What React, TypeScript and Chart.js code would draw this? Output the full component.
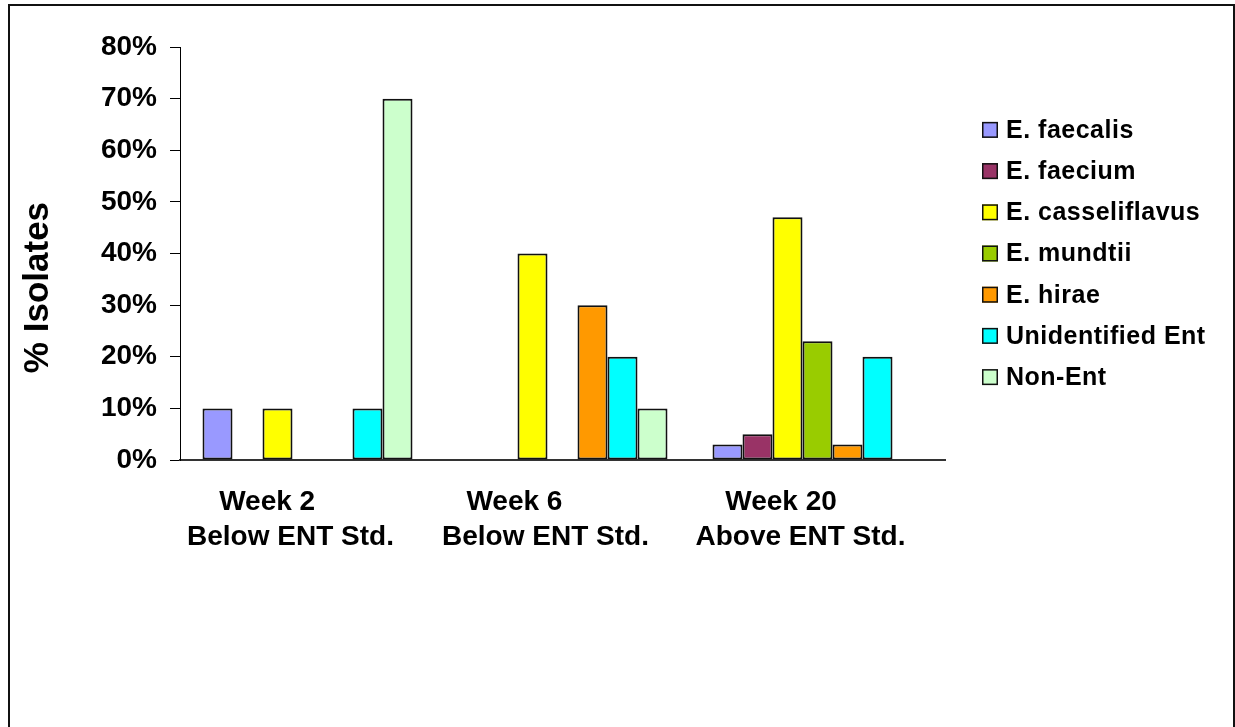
import React, { useEffect, useRef } from "react";
import { Chart, registerables } from "chart.js";

Chart.register(...registerables);

// Category labels (trailing spaces keep the first line left of centre, as in the original sheet)
const categories: string[][] = [
  ["Week 2      ", "Below ENT Std."],
  ["Week 6        ", "Below ENT Std."],
  ["Week 20     ", "Above ENT Std."],
];

const seriesNames = [
  "E. faecalis",
  "E. faecium",
  "E. casseliflavus",
  "E. mundtii",
  "E. hirae",
  "Unidentified Ent",
  "Non-Ent",
];

const seriesColors = [
  "#9999FF",
  "#993366",
  "#FFFF00",
  "#99CC00",
  "#FF9900",
  "#00FFFF",
  "#CCFFCC",
];

// Percent of isolates per series, one value per category
const faecalis = [10, 0, 3];
const faecium = [0, 0, 5];
const casseliflavus = [10, 40, 47];
const mundtii = [0, 0, 23];
const hirae = [0, 30, 3];
const unidentified = [10, 20, 20];
const nonEnt = [70, 10, 0];

const seriesValues = [faecalis, faecium, casseliflavus, mundtii, hirae, unidentified, nonEnt];

const yTicks = [0, 10, 20, 30, 40, 50, 60, 70, 80];

const FONT = '"Liberation Sans", Arial, Helvetica, sans-serif';

// Vertical legend drawn to the right of the plot area
const sideLegend = {
  id: "sideLegend",
  afterDraw(chart: any) {
    const { ctx, chartArea } = chart;
    const datasets = chart.data.datasets;
    const n = datasets.length;
    const step = 41.2;
    const mid = (chartArea.top + chartArea.bottom) / 2;
    const boxX = chartArea.right + 37;
    const box = 16;
    ctx.save();
    ctx.font = `bold 25px ${FONT}`;
    ctx.letterSpacing = "0.5px";
    ctx.textBaseline = "middle";
    ctx.textAlign = "left";
    datasets.forEach((ds: any, i: number) => {
      const cy = mid + (i - (n - 1) / 2) * step;
      ctx.fillStyle = ds.backgroundColor;
      ctx.fillRect(boxX, cy - box / 2, box, box);
      ctx.strokeStyle = "#111";
      ctx.lineWidth = 1.5;
      ctx.strokeRect(boxX + 0.75, cy - box / 2 + 0.75, box - 1.5, box - 1.5);
      ctx.fillStyle = "#000";
      ctx.fillText(ds.label, boxX + 24, cy + 1);
    });
    ctx.restore();
  },
};

export default function App() {
  const canvasRef = useRef<HTMLCanvasElement | null>(null);

  useEffect(() => {
    const canvas = canvasRef.current;
    if (!canvas) return;
    const chart = new Chart(canvas, {
      type: "bar",
      data: {
        labels: categories,
        datasets: seriesNames.map((name, i) => ({
          label: name,
          data: seriesValues[i],
          backgroundColor: seriesColors[i],
          borderColor: "#111",
          borderWidth: 2,
          borderSkipped: false,
          barPercentage: 1,
          categoryPercentage: 7 / 8.5,
        })),
      },
      options: {
        responsive: false,
        animation: false,
        layout: { padding: { left: 0, top: 47, right: 290, bottom: 0 } },
        plugins: {
          legend: { display: false },
          tooltip: { enabled: false },
        },
        scales: {
          x: {
            grid: { display: true, drawOnChartArea: false, drawTicks: false },
            border: { display: true, color: "#333", width: 2 },
            ticks: {
              color: "#000",
              font: { family: FONT, size: 28, weight: "bold", lineHeight: 1.25 },
              padding: 25,
              labelOffset: -17,
              maxRotation: 0,
              minRotation: 0,
              autoSkip: false,
            },
            afterFit(scale: any) {
              scale.height = 267;
            },
          },
          y: {
            min: 0,
            max: 80,
            afterBuildTicks(scale: any) {
              scale.ticks = yTicks.map((v) => ({ value: v }));
            },
            grid: {
              display: true,
              drawOnChartArea: false,
              drawTicks: true,
              tickLength: 10,
              color: "#000",
              lineWidth: 1,
            },
            border: { display: true, color: "#000", width: 1 },
            ticks: {
              color: "#000",
              font: { family: FONT, size: 28, weight: "bold" },
              padding: 13,
              callback: (v: any) => `${v}%`,
            },
            title: {
              display: true,
              text: "% Isolates       ",
              color: "#000",
              font: { family: FONT, size: 35, weight: "bold", lineHeight: 1.2 },
              padding: { top: 17, bottom: 0 },
            },
            afterFit(scale: any) {
              scale.width = 180;
            },
          },
        },
      },
      plugins: [sideLegend],
    });
    return () => chart.destroy();
  }, []);

  return (
    <div
      style={{
        position: "fixed",
        left: 0,
        top: 0,
        width: 1235,
        height: 727,
        overflow: "hidden",
        background: "#fff",
      }}
    >
      <canvas
        ref={canvasRef}
        width={1235}
        height={727}
        style={{ position: "absolute", left: 0, top: 0, width: 1235, height: 727, display: "block" }}
      />
      <div
        style={{
          position: "absolute",
          left: 8,
          top: 4,
          width: 1227,
          height: 760,
          boxSizing: "border-box",
          border: "2px solid #111",
          pointerEvents: "none",
        }}
      />
    </div>
  );
}
